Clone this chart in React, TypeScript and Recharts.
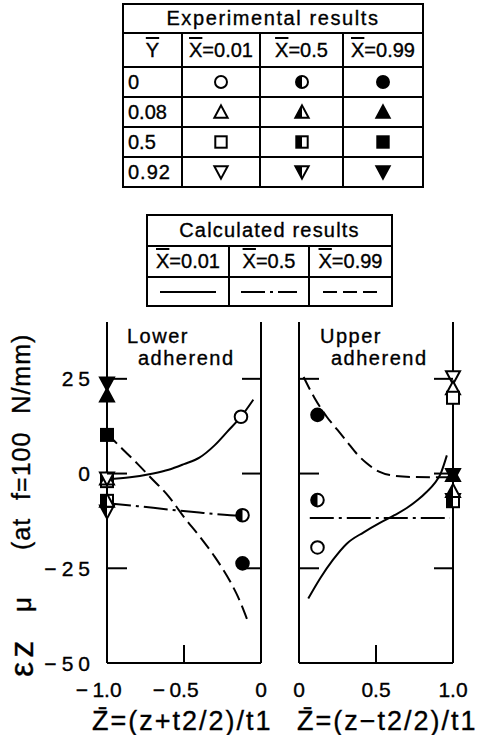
import React from 'react';
import { ComposedChart, Line, Scatter, XAxis, YAxis } from 'recharts';

const FONT = '"Liberation Sans", Arial, Helvetica, sans-serif';
const INK = '#000';

// ---------- table texts ----------
const EXP_TITLE = 'Experimental results';
const CALC_TITLE = 'Calculated results';
const Y_BAR_VALUES = ['0', '0.08', '0.5', '0.92'];
const X_BAR_VALUES = ['0.01', '0.5', '0.99'];
const Y_BAR_SHAPES = ['circle', 'up', 'square', 'down'];
const X_BAR_FILLS = ['open', 'half', 'full'];
const CALC_STYLES = ['solid', 'dashdot', 'dashed'];

// ---------- axes ----------
const Y_DOMAIN = [-50, 40];
const Y_TICKS = [25, 0, -25, -50];
const Y_SIDE_TICKS = [25, 0, -25];
const LOWER_X_DOMAIN = [-1, 0];
const LOWER_X_TICKS = [-1, -0.5, 0];
const UPPER_X_DOMAIN = [0, 1];
const UPPER_X_TICKS = [0, 0.5, 1];
const LOWER_TITLE = ['Lower', 'adherend'];
const UPPER_TITLE = ['Upper', 'adherend'];
const LOWER_X_TITLE = 'Z\u0304=(z+t2/2)/t1';
const UPPER_X_TITLE = 'Z\u0304=(z\u2212t2/2)/t1';

// ---------- experimental points, lower adherend ----------
const LOWER_Y000_X001 = [{ z: -0.13, y: 15 }];
const LOWER_Y000_X050 = [{ z: -0.12, y: -11 }];
const LOWER_Y000_X099 = [{ z: -0.12, y: -23.7 }];
const LOWER_Y008_X001 = [{ z: -1, y: -1.3 }];
const LOWER_Y008_X050 = [{ z: -1, y: -7.2 }];
const LOWER_Y008_X099 = [{ z: -1, y: 20.6 }];
const LOWER_Y050_X001 = [{ z: -1, y: -2 }];
const LOWER_Y050_X050 = [{ z: -1, y: -7.2 }];
const LOWER_Y050_X099 = [{ z: -1, y: 10.2 }];
const LOWER_Y092_X001 = [{ z: -1, y: -1.3 }];
const LOWER_Y092_X050 = [{ z: -1, y: -10 }];
const LOWER_Y092_X099 = [{ z: -1, y: 23.8 }];

// ---------- experimental points, upper adherend ----------
const UPPER_Y000_X001 = [{ z: 0.12, y: -19.5 }];
const UPPER_Y000_X050 = [{ z: 0.12, y: -7 }];
const UPPER_Y000_X099 = [{ z: 0.12, y: 15.5 }];
const UPPER_Y008_X001 = [{ z: 1, y: 22.5 }];
const UPPER_Y008_X050 = [{ z: 1, y: -4.6 }];
const UPPER_Y008_X099 = [{ z: 1, y: -0.4 }];
const UPPER_Y050_X001 = [{ z: 1, y: 20 }];
const UPPER_Y050_X050 = [{ z: 1, y: -7.3 }];
const UPPER_Y092_X001 = [{ z: 1, y: 25.4 }];
const UPPER_Y092_X050 = [{ z: 1, y: -7 }];
const UPPER_Y092_X099 = [{ z: 1, y: -0.4 }];

// ---------- calculated curves ----------
const LOWER_CALC_X001 = [
  { z: -1, y: -1.5 }, { z: -0.85, y: -1 }, { z: -0.7, y: 0 }, { z: -0.6, y: 1 },
  { z: -0.5, y: 2.5 }, { z: -0.4, y: 4.2 }, { z: -0.3, y: 7.5 }, { z: -0.22, y: 11 },
  { z: -0.13, y: 15 }, { z: -0.05, y: 19.5 },
];
const LOWER_CALC_X050 = [
  { z: -1, y: -7.8 }, { z: -0.8, y: -8.6 }, { z: -0.6, y: -9.5 }, { z: -0.4, y: -10.3 },
  { z: -0.2, y: -11 }, { z: -0.12, y: -11.2 }, { z: -0.08, y: -11.4 },
];
const LOWER_CALC_X099 = [
  { z: -1, y: 10.5 }, { z: -0.9, y: 6.5 }, { z: -0.8, y: 2.5 }, { z: -0.72, y: -0.9 },
  { z: -0.6, y: -6 }, { z: -0.5, y: -11.5 }, { z: -0.4, y: -16.5 }, { z: -0.3, y: -22 },
  { z: -0.2, y: -28.5 }, { z: -0.15, y: -32.5 }, { z: -0.09, y: -38.5 },
];
const UPPER_CALC_X001 = [
  { z: 0.06, y: -33 }, { z: 0.14, y: -27.5 }, { z: 0.22, y: -22.8 }, { z: 0.31, y: -18.5 },
  { z: 0.42, y: -15.5 }, { z: 0.525, y: -13 }, { z: 0.62, y: -11 }, { z: 0.7, y: -9.1 },
  { z: 0.77, y: -7 }, { z: 0.83, y: -4.8 }, { z: 0.88, y: -2.6 }, { z: 0.92, y: 0 },
  { z: 0.96, y: 4.8 },
];
const UPPER_CALC_X050 = [{ z: 0.07, y: -11.7 }, { z: 0.98, y: -11.7 }];
const UPPER_CALC_X099 = [
  { z: 0.03, y: 25.5 }, { z: 0.1, y: 20 }, { z: 0.18, y: 15 }, { z: 0.25, y: 11.5 },
  { z: 0.31, y: 8.5 }, { z: 0.38, y: 5 }, { z: 0.44, y: 2.7 }, { z: 0.52, y: 0.5 },
  { z: 0.59, y: -0.4 }, { z: 0.74, y: -0.9 }, { z: 1, y: -1 },
];

const DASH: Record<string, string | undefined> = {
  solid: undefined,
  dashdot: '24 5 3 5',
  dashed: '14 6',
};

const LOWER_EXP = [
  { data: LOWER_Y000_X001, shape: 'circle', fill: 'open' },
  { data: LOWER_Y000_X050, shape: 'circle', fill: 'half' },
  { data: LOWER_Y000_X099, shape: 'circle', fill: 'full' },
  { data: LOWER_Y092_X099, shape: 'down', fill: 'full' },
  { data: LOWER_Y008_X099, shape: 'up', fill: 'full' },
  { data: LOWER_Y050_X099, shape: 'square', fill: 'full' },
  { data: LOWER_Y050_X001, shape: 'square', fill: 'open' },
  { data: LOWER_Y008_X001, shape: 'up', fill: 'open' },
  { data: LOWER_Y092_X001, shape: 'down', fill: 'open' },
  { data: LOWER_Y092_X050, shape: 'down', fill: 'half' },
  { data: LOWER_Y050_X050, shape: 'square', fill: 'half' },
  { data: LOWER_Y008_X050, shape: 'up', fill: 'half' },
];
const UPPER_EXP = [
  { data: UPPER_Y000_X001, shape: 'circle', fill: 'open' },
  { data: UPPER_Y000_X050, shape: 'circle', fill: 'half' },
  { data: UPPER_Y000_X099, shape: 'circle', fill: 'full' },
  { data: UPPER_Y092_X001, shape: 'down', fill: 'open' },
  { data: UPPER_Y008_X001, shape: 'up', fill: 'open' },
  { data: UPPER_Y050_X001, shape: 'square', fill: 'open' },
  { data: UPPER_Y008_X099, shape: 'up', fill: 'full' },
  { data: UPPER_Y092_X099, shape: 'down', fill: 'full' },
  { data: UPPER_Y092_X050, shape: 'down', fill: 'half' },
  { data: UPPER_Y050_X050, shape: 'square', fill: 'half' },
  { data: UPPER_Y008_X050, shape: 'up', fill: 'half' },
];
const LOWER_CALC = [
  { data: LOWER_CALC_X001, style: 'solid' },
  { data: LOWER_CALC_X050, style: 'dashdot' },
  { data: LOWER_CALC_X099, style: 'dashed' },
];
const UPPER_CALC = [
  { data: UPPER_CALC_X001, style: 'solid' },
  { data: UPPER_CALC_X050, style: 'dashdot' },
  { data: UPPER_CALC_X099, style: 'dashed' },
];

const TXT_STROKE = { stroke: INK, strokeWidth: 0.35 };

// ---------- marker glyphs ----------
function Marker({ cx, cy, kind, fill, s = 1 }: any) {
  if (cx == null || cy == null) return null;
  const sw = 2;
  const body = fill === 'full' ? INK : '#fff';
  if (kind === 'circle') {
    const r = 6.3 * s;
    return (
      <g>
        <circle cx={cx} cy={cy} r={r} fill={body} stroke={INK} strokeWidth={sw} />
        {fill === 'half' && (
          <path d={`M${cx},${cy - r} A${r},${r} 0 0 0 ${cx},${cy + r} Z`} fill={INK} />
        )}
      </g>
    );
  }
  if (kind === 'square') {
    const h = 6 * s;
    return (
      <g>
        <rect x={cx - h} y={cy - h} width={2 * h} height={2 * h} fill={body} stroke={INK} strokeWidth={sw} />
        {fill === 'half' && <rect x={cx - h} y={cy - h} width={h} height={2 * h} fill={INK} />}
      </g>
    );
  }
  const w = 7 * s;
  const up = kind === 'up';
  const tipY = up ? cy - 7 * s : cy + 7 * s;
  const baseY = up ? cy + 6 * s : cy - 6 * s;
  return (
    <g>
      <polygon
        points={`${cx},${tipY} ${cx + w},${baseY} ${cx - w},${baseY}`}
        fill={body}
        stroke={INK}
        strokeWidth={sw}
        strokeLinejoin="miter"
      />
      {fill === 'half' && <polygon points={`${cx},${tipY} ${cx},${baseY} ${cx - w},${baseY}`} fill={INK} />}
    </g>
  );
}

// ---------- tick renderers (tick marks drawn inward from the axis lines) ----------
const xTick = (p: any) => {
  const v = p.payload.value as number;
  const abs = Math.abs(v);
  const txt = abs === 0 ? '0' : abs.toFixed(1);
  const ly = p.y + 19;
  return (
    <g>
      <line x1={p.x} y1={p.y} x2={p.x} y2={p.y - 18} stroke={INK} strokeWidth={2} />
      <text x={p.x} y={ly} dy="0.71em" textAnchor="middle" fontSize={21} fontFamily={FONT} fill={INK} {...TXT_STROKE}>
        {txt}
      </text>
      {v < 0 && (
        <text x={p.x - 19} y={ly} dy="0.71em" textAnchor="end" fontSize={21} fontFamily={FONT} fill={INK} {...TXT_STROKE}>
          {'\u2212'}
        </text>
      )}
    </g>
  );
};

// left-axis tick: inward mark on the left frame, the matching inward mark on the right frame
// (plotW apart), and the label when requested
const makeYTick = (plotW: number, labeled: boolean) => (p: any) => {
  const v = p.payload.value as number;
  const txt = String(Math.abs(v));
  const digitsW = txt.length * 11.7 + (txt.length - 1) * 5;
  const lx = p.x - 17;
  const onFrame = v > Y_DOMAIN[0];
  return (
    <g>
      {onFrame && <line x1={p.x} y1={p.y} x2={p.x + 20} y2={p.y} stroke={INK} strokeWidth={2} />}
      {onFrame && <line x1={p.x + plotW} y1={p.y} x2={p.x + plotW - 19} y2={p.y} stroke={INK} strokeWidth={2} />}
      {labeled && (
        <text x={lx + 5} y={p.y} dy="0.36em" textAnchor="end" fontSize={21} letterSpacing={5} fontFamily={FONT} fill={INK} {...TXT_STROKE}>
          {txt}
        </text>
      )}
      {labeled && v < 0 && (
        <text x={lx - digitsW - 5} y={p.y} dy="0.36em" textAnchor="end" fontSize={21} fontFamily={FONT} fill={INK} {...TXT_STROKE}>
          {'\u2212'}
        </text>
      )}
    </g>
  );
};

const AX = { stroke: INK, strokeWidth: 2 };

function Panel({ width, xDomain, xTicks, exp, calc, leftW, rightW, leftLabels, title, xTitle, xTitleX, yLabel }: any) {
  const plotW = width - leftW - rightW;
  return (
    <ComposedChart width={width} height={435} margin={{ top: 22, right: 0, bottom: 0, left: 0 }}>
      <XAxis
        xAxisId="x"
        dataKey="z"
        type="number"
        domain={xDomain}
        ticks={xTicks}
        interval={0}
        height={72}
        axisLine={AX}
        tickLine={false}
        tickSize={0}
        tickMargin={0}
        tick={xTick}
      />
      <YAxis
        yAxisId="l"
        dataKey="y"
        type="number"
        domain={Y_DOMAIN}
        ticks={leftLabels ? Y_TICKS : Y_SIDE_TICKS}
        interval={0}
        width={leftW}
        axisLine={AX}
        tickLine={false}
        tickSize={0}
        tickMargin={0}
        tick={makeYTick(plotW, leftLabels)}
      />
      <YAxis
        yAxisId="r"
        orientation="right"
        dataKey="y"
        type="number"
        domain={Y_DOMAIN}
        ticks={Y_SIDE_TICKS}
        interval={0}
        width={rightW}
        axisLine={AX}
        tickLine={false}
        tick={false}
      />
      {calc.map((c: any, i: number) => (
        <Line
          key={'c' + i}
          xAxisId="x"
          yAxisId="l"
          data={c.data}
          dataKey="y"
          type="monotone"
          stroke={INK}
          strokeWidth={2}
          strokeDasharray={DASH[c.style]}
          dot={false}
          activeDot={false}
          isAnimationActive={false}
        />
      ))}
      {exp.map((s: any, i: number) => (
        <Scatter
          key={'e' + i}
          xAxisId="x"
          yAxisId="l"
          data={s.data}
          dataKey="y"
          zIndex={1500}
          isAnimationActive={false}
          shape={(p: any) => <Marker cx={p.cx} cy={p.cy} kind={s.shape} fill={s.fill} />}
        />
      ))}
      <text fontFamily={FONT} fontSize={20} letterSpacing={1.5} fill={INK} {...TXT_STROKE}>
        <tspan x={title.x} y={43}>{title.lines[0]}</tspan>
        <tspan x={title.x + 11} y={65}>{title.lines[1]}</tspan>
      </text>
      <text x={xTitleX} y={430} fontFamily={FONT} fontSize={27} letterSpacing={2} fill={INK} {...TXT_STROKE}>
        {xTitle}
      </text>
      {yLabel && (
        <g fontFamily={FONT} fill={INK} {...TXT_STROKE}>
          <text transform="translate(33,377) rotate(-90)" fontSize={34} letterSpacing={4}>
            εz
          </text>
          <text transform="translate(31,312) rotate(-90)" fontSize={26}>
            μ
          </text>
          <text transform="translate(30,250) rotate(-90)" fontSize={25} letterSpacing={1} wordSpacing={10}>
            (at f=100 N/mm)
          </text>
        </g>
      )}
    </ComposedChart>
  );
}

// ---------- tables ----------
const OL = ({ ch }: { ch: string }) => <span style={{ textDecoration: 'overline' }}>{ch}</span>;
const cellB = '2px solid #000';
const TABLE_TEXT: React.CSSProperties = { fontFamily: FONT, fontSize: 20, color: INK, WebkitTextStroke: '0.35px #000' } as any;

function ExpTable() {
  const td: React.CSSProperties = { border: cellB, padding: 0, textAlign: 'center', verticalAlign: 'middle' };
  return (
    <table
      style={{
        position: 'absolute', left: 122, top: 3, borderCollapse: 'collapse', tableLayout: 'fixed',
        width: 300, ...TABLE_TEXT,
      }}
    >
      <colgroup>
        <col style={{ width: 59 }} />
        <col style={{ width: 78 }} />
        <col style={{ width: 83 }} />
        <col style={{ width: 80 }} />
      </colgroup>
      <tbody>
        <tr style={{ height: 29 }}>
          <td colSpan={4} style={{ ...td, letterSpacing: 1.6 }}>{EXP_TITLE}</td>
        </tr>
        <tr style={{ height: 34 }}>
          <td style={td}><OL ch="Y" /></td>
          {X_BAR_VALUES.map((x) => (
            <td key={x} style={td}><OL ch="X" />={x}</td>
          ))}
        </tr>
        {Y_BAR_VALUES.map((yv, r) => (
          <tr key={yv} style={{ height: 30 }}>
            <td style={{ ...td, textAlign: 'left', paddingLeft: 4, letterSpacing: yv === '0.92' ? 1 : 0 }}>{yv}</td>
            {X_BAR_FILLS.map((f) => (
              <td key={f} style={td}>
                <svg width={20} height={18} style={{ display: 'block', margin: '0 auto' }}>
                  <Marker cx={10} cy={9} kind={Y_BAR_SHAPES[r]} fill={f} s={0.95} />
                </svg>
              </td>
            ))}
          </tr>
        ))}
      </tbody>
    </table>
  );
}

function CalcTable() {
  const td: React.CSSProperties = { border: cellB, padding: 0, textAlign: 'center', verticalAlign: 'middle' };
  return (
    <table
      style={{
        position: 'absolute', left: 146, top: 214, borderCollapse: 'collapse', tableLayout: 'fixed',
        width: 245, ...TABLE_TEXT,
      }}
    >
      <colgroup>
        <col style={{ width: 82 }} />
        <col style={{ width: 80 }} />
        <col style={{ width: 83 }} />
      </colgroup>
      <tbody>
        <tr style={{ height: 31 }}>
          <td colSpan={3} style={{ ...td, letterSpacing: 1.2 }}>{CALC_TITLE}</td>
        </tr>
        <tr style={{ height: 31 }}>
          {X_BAR_VALUES.map((x) => (
            <td key={x} style={td}><OL ch="X" />={x}</td>
          ))}
        </tr>
        <tr style={{ height: 29 }}>
          {CALC_STYLES.map((st) => (
            <td key={st} style={td}>
              <svg width={60} height={10} style={{ display: 'block', margin: '0 auto' }}>
                <line x1={2} y1={5} x2={58} y2={5} stroke={INK} strokeWidth={2} strokeDasharray={DASH[st]} />
              </svg>
            </td>
          ))}
        </tr>
      </tbody>
    </table>
  );
}

export default function App() {
  return (
    <div style={{ position: 'absolute', left: 0, top: 0, width: 479, height: 735, background: '#fff', overflow: 'hidden' }}>
      <ExpTable />
      <CalcTable />
      <div style={{ position: 'absolute', left: 0, top: 300 }}>
        <Panel
          width={282}
          xDomain={LOWER_X_DOMAIN}
          xTicks={LOWER_X_TICKS}
          exp={LOWER_EXP}
          calc={LOWER_CALC}
          leftW={107}
          rightW={21}
          leftLabels
          title={{ x: 127, lines: LOWER_TITLE }}
          xTitle={LOWER_X_TITLE}
          xTitleX={92}
          yLabel
        />
      </div>
      <div style={{ position: 'absolute', left: 282, top: 300 }}>
        <Panel
          width={197}
          xDomain={UPPER_X_DOMAIN}
          xTicks={UPPER_X_TICKS}
          exp={UPPER_EXP}
          calc={UPPER_CALC}
          leftW={17}
          rightW={26}
          leftLabels={false}
          title={{ x: 38, lines: UPPER_TITLE }}
          xTitle={UPPER_X_TITLE}
          xTitleX={15}
          yLabel={false}
        />
      </div>
    </div>
  );
}
